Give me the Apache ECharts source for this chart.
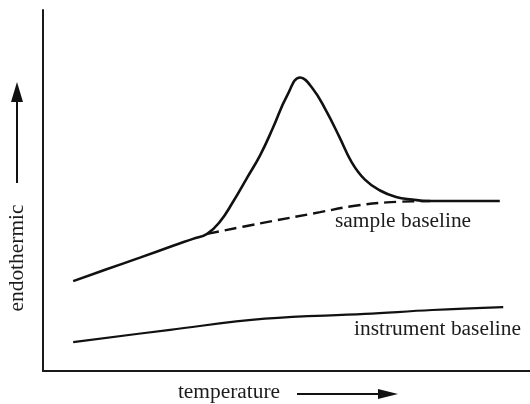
<!DOCTYPE html>
<html>
<head>
<meta charset="utf-8">
<script src="https://cdn.jsdelivr.net/npm/echarts@6/dist/echarts.min.js"></script>
<style>html,body{margin:0;padding:0;background:#fff}#c{width:530px;height:404px}</style>
</head>
<body>
<div id="c"></div>
<script>
// Arbitrary units: temperature 0-100 across the plot, heat flow 0-100 up the plot
var sampleCurveT = [6.2, 12.9, 19.9, 26.7, 30.8, 33.7, 36.3, 39.0, 41.9, 44.6, 47.2, 50.1, 52.8, 55.4, 58.1, 60.8, 63.4, 66.1, 69.2, 72.5, 75.8, 79.1, 85.6, 93.8];
var sampleCurveV = [24.9, 28.1, 31.4, 34.7, 36.6, 38.0, 41.3, 46.8, 53.5, 59.8, 67.3, 76.2, 81.3, 78.2, 72.2, 65.0, 57.8, 53.0, 50.0, 48.2, 47.5, 47.1, 47.1, 47.1];
var sampleBaseT = [33.7, 44.6, 56.9, 63.7, 70.6, 79.5];
var sampleBaseV = [38.0, 40.9, 44.0, 45.7, 46.7, 47.1];
var instrBaseT = [6.2, 26.1, 45.6, 66.1, 79.9, 94.5];
var instrBaseV = [8.0, 11.4, 14.5, 15.8, 16.9, 17.7];
var labels = { x: 'temperature', y: 'endothermic', sample: 'sample baseline', instrument: 'instrument baseline' };

function pairs(t, v) { return t.map(function (x, i) { return [x, v[i]]; }); }

var chart = echarts.init(document.getElementById('c'), null, { renderer: 'canvas' });
var FONT = '"Liberation Serif", "Times New Roman", serif';
var ink = '#111';
function txt(x, y, s, align, rot) {
  return {
    type: 'text', x: x, y: y, rotation: rot || 0, scaleX: 1.07, scaleY: 1,
    style: { text: s, x: 0, y: 0, font: '20px ' + FONT, fill: '#1c1c1c', align: align, verticalAlign: 'middle' }
  };
}
chart.setOption({
  animation: false,
  backgroundColor: '#fff',
  grid: { left: 43, right: 0, top: 10, bottom: 33 },
  xAxis: {
    type: 'value', min: 0, max: 100,
    axisLine: { show: true, lineStyle: { color: '#1a1a1a', width: 2 } },
    axisTick: { show: false }, axisLabel: { show: false }, splitLine: { show: false }
  },
  yAxis: {
    type: 'value', min: 0, max: 100,
    axisLine: { show: true, lineStyle: { color: '#1a1a1a', width: 2 } },
    axisTick: { show: false }, axisLabel: { show: false }, splitLine: { show: false }
  },
  series: [
    { type: 'line', data: pairs(sampleCurveT, sampleCurveV), smooth: 0.45, symbol: 'none',
      lineStyle: { color: ink, width: 2.6 } },
    { type: 'line', data: pairs(sampleBaseT, sampleBaseV), smooth: 0.4, symbol: 'none',
      lineStyle: { color: ink, width: 2.4, type: [12, 6] } },
    { type: 'line', data: pairs(instrBaseT, instrBaseV), smooth: 0.4, symbol: 'none',
      lineStyle: { color: ink, width: 2.2 } }
  ],
  graphic: [
    txt(335, 221.5, labels.sample, 'left'),
    txt(354, 330, labels.instrument, 'left'),
    txt(229, 393, labels.x, 'center'),
    txt(18, 258, labels.y, 'center', Math.PI / 2),
    { type: 'line', shape: { x1: 297, y1: 394, x2: 382, y2: 394 }, style: { stroke: ink, lineWidth: 2 } },
    { type: 'polygon', shape: { points: [[398, 394], [378, 389], [378, 399]] }, style: { fill: ink } },
    { type: 'line', shape: { x1: 17, y1: 183, x2: 17, y2: 98 }, style: { stroke: ink, lineWidth: 2 } },
    { type: 'polygon', shape: { points: [[17, 82], [11, 102], [23, 102]] }, style: { fill: ink } }
  ]
});
</script>
</body>
</html>
